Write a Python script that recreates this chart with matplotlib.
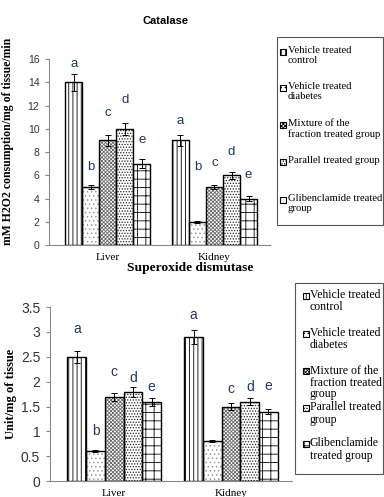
import matplotlib
matplotlib.use("Agg")
import matplotlib.pyplot as plt
import numpy as np
from matplotlib.patches import Rectangle

plt.rcParams['hatch.linewidth'] = 0.6

categories = ["Liver", "Kidney"]
groups = ["Vehicle treated\ncontrol", "Vehicle treated\ndiabetes",
          "Mixture of the\nfraction treated group", "Parallel treated group",
          "Glibenclamide treated\ngroup"]
groups2 = ["Vehicle treated\ncontrol", "Vehicle treated\ndiabetes",
           "Mixture of the\nfraction treated\ngroup", "Parallel treated\ngroup",
           "Glibenclamide\ntreated group"]
letters = ["a", "b", "c", "d", "e"]

cat_vals = [[14, 9], [5, 2], [9, 5], [10, 6], [7, 4]]
cat_err = [[0.7, 0.45], [0.2, 0.1], [0.45, 0.2], [0.5, 0.3], [0.4, 0.2]]
cat_lab_y = [[15.6, 10.7], [6.7, 6.7], [11.4, 7.1], [12.5, 8.0], [9.0, 6.0]]

sod_vals = [[2.5, 2.9], [0.6, 0.8], [1.7, 1.5], [1.8, 1.6], [1.6, 1.4]]
sod_err = [[0.12, 0.15], [0.02, 0.02], [0.08, 0.07], [0.1, 0.07], [0.08, 0.05]]
sod_lab_y = [[3.06, 3.34], [1.0, None], [2.19, 1.85], [2.07, 1.89], [1.89, 1.91]]

hatches = ["||||", "....", "xxxxxxxxx", "......", "++"]
hcolors = ["black", "#9a9a9a", "#6a6a6a", "#222222", "black"]
letter_color = "#1F3864"
bw = 0.16

W, H = 384, 497
fig = plt.figure(figsize=(3.84, 4.97), dpi=100)

def draw(ax, vals, errs, laby, ylim, yticks, ytl, tick_fs, letter_fs):
    x = np.arange(len(categories))
    for i in range(5):
        xs = x + (i - 2) * bw
        ax.bar(xs, vals[i], bw, color="white", edgecolor=hcolors[i], hatch=hatches[i], linewidth=0, zorder=2)
        ax.bar(xs, vals[i], bw, fill=False, edgecolor="black", linewidth=1.0, zorder=3)
        ax.errorbar(xs, vals[i], yerr=errs[i], fmt="none", ecolor="black", elinewidth=0.7, capsize=2.5, capthick=0.7, zorder=4)
        for j in range(len(categories)):
            if laby[i][j] is not None:
                ax.text(xs[j], laby[i][j], letters[i], ha="center", va="center", color=letter_color,
                        fontsize=letter_fs, family="Liberation Sans")
    ax.set_ylim(*ylim)
    ax.set_yticks(yticks)
    ax.set_yticklabels(ytl, fontsize=tick_fs, family="Liberation Sans", color="#333333")
    ax.set_xticks(x)
    ax.set_xticklabels(categories, fontsize=8, family="Liberation Serif")
    ax.tick_params(axis="x", length=0, pad=6)
    ax.tick_params(axis="y", length=3, color="#888888", pad=4)
    for s in ["top", "right"]:
        ax.spines[s].set_visible(False)
    ax.spines["left"].set_color("#888888")
    ax.spines["bottom"].set_color("#888888")

ax1 = fig.add_axes([0.128, 0.507, 0.575, 0.374])
draw(ax1, cat_vals, cat_err, cat_lab_y, (0, 16), np.arange(0, 17, 2),
     [str(v) for v in range(0, 17, 2)], 7.5, 9.5)
ax1.set_xlim(-0.55, 1.52)
ax1.set_ylabel("mM H2O2 consumption/mg of tissue/min", fontsize=8.5, family="Liberation Serif",
               fontweight="bold")
ax1.yaxis.set_label_coords(-0.16, 0.56)
fig.text(0.43, 0.958, "Catalase", ha="center", va="center", fontsize=8, fontweight="bold",
         family="Liberation Sans")

ax2 = fig.add_axes([0.130, 0.032, 0.630, 0.35])
draw(ax2, sod_vals, sod_err, sod_lab_y, (0, 3.5), np.arange(0, 3.6, 0.5),
     ["0", "0.5", "1", "1.5", "2", "2.5", "3", "3.5"], 10, 10)
ax2.set_xlim(-0.55, 1.52)
ax2.set_ylabel("Unit/mg of tissue", fontsize=9, family="Liberation Serif",
               fontweight="bold", labelpad=3)
fig.text(0.495, 0.461, "Superoxide dismutase", ha="center", va="center", fontsize=9.7,
         fontweight="bold", family="Liberation Serif")

def legend(labels, box, entry_y, hx, tx, fs, half, ls):
    # box: (left, top, right, bottom) in pixels from top-left
    l, t, r, b = box
    fig.add_artist(Rectangle((l / W, 1 - b / H), (r - l) / W, (b - t) / H, transform=fig.transFigure,
                             fill=False, edgecolor="#555555", linewidth=0.8))
    hs = 6
    for i, lab in enumerate(labels):
        y = entry_y[i]
        fig.add_artist(Rectangle((hx / W, 1 - (y + hs / 2) / H), hs / W, hs / H, transform=fig.transFigure,
                                 facecolor="white", edgecolor="black", hatch=hatches[i], linewidth=0.8))
        fig.text(tx / W, 1 - (y - half) / H, lab, ha="left", va="top", fontsize=fs,
                 family="Liberation Serif", linespacing=ls)

legend(groups, (277, 37, 383, 225), [52, 88, 125, 162, 200], 280, 288, 7.7, 6, 1.2)
legend(groups2, (295, 283, 383, 474), [296, 334, 371, 408, 444], 303, 310, 8.5, 6.5, 1.0)

fig.savefig("out.png", dpi=100)
